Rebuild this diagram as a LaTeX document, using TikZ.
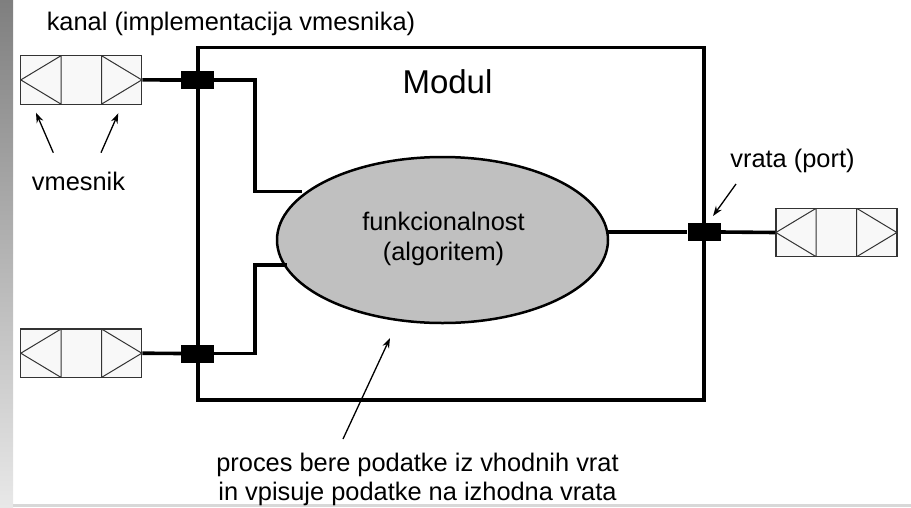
\documentclass[tikz,border=0pt]{standalone}
\usepackage{fontspec}
\setmainfont{Liberation Sans}
\usetikzlibrary{shapes.geometric,arrows.meta}
\definecolor{barTop}{HTML}{7F7F7F}
\definecolor{barBot}{HTML}{E8E8E8}
\definecolor{bandGray}{HTML}{D8D8D8}
\definecolor{chanFill}{HTML}{F8F8F8}
\definecolor{chanEdge}{HTML}{333333}
\definecolor{ellFill}{HTML}{C0C0C0}
\begin{document}
\begin{tikzpicture}[x=1pt,y=-1pt,
  txt/.style={font=\fontsize{25.4}{30}\selectfont, inner sep=0, anchor=base},
  wire/.style={line width=3.6pt, line join=miter},
  chan/.style={draw=chanEdge, fill=chanFill, line width=1.3pt, minimum width=121pt, minimum height=48.5pt, inner sep=0,
    path picture={
      \draw[line width=1pt, line join=miter]
        ([xshift=-20.2pt]path picture bounding box.north) -- (path picture bounding box.west)
        -- ([xshift=-20.2pt]path picture bounding box.south) -- cycle;
      \draw[line width=1pt, line join=miter]
        ([xshift=20.2pt]path picture bounding box.north) -- (path picture bounding box.east)
        -- ([xshift=20.2pt]path picture bounding box.south) -- cycle;
    }},
  port/.style={fill=black, minimum width=33pt, minimum height=18pt, inner sep=0},
  ptr/.style={line width=1.3pt, -{Stealth[length=10pt,width=7pt]}}
]
\useasboundingbox (0,0) rectangle (911,507);
% background decorations
\shade[top color=barTop, bottom color=barBot] (0,0) rectangle (13,507);
\fill[bandGray] (13,504) rectangle (911,507);

% module
\node[draw, line width=3.6pt, minimum width=506pt, minimum height=352.5pt, inner sep=0] (mod) at (451,223.75) {};
\node[font=\fontsize{33}{40}\selectfont, inner sep=0, anchor=base] (modl) at (447.5,93) {Modul};

% ellipse
\node[draw, line width=2.5pt, fill=ellFill, ellipse, minimum width=331pt, minimum height=166pt, inner sep=0] (ell) at (442.5,240) {};
\node[txt] (f1) at (443.5,230) {funkcionalnost};
\node[txt] (f2) at (443.5,260) {(algoritem)};

% channels and ports
\node[chan] (c1) at (81.3,79.9) {};
\node[chan] (c2) at (81.3,353.2) {};
\node[chan] (c3) at (836.4,232.5) {};
\node[port] (p1) at (197.5,80) {};
\node[port] (p2) at (197.5,353.5) {};
\node[port] (p3) at (704,232) {};

% junction coordinates
\coordinate (j1) at (255,191.5);
\coordinate (e1) at (302,191.5);
\coordinate (j2) at (255,265);
\coordinate (e2) at (287,265);
\coordinate (e3) at (607,232);

% wires
\draw[wire] (c1.east) -- (p1.west);
\draw[wire] (p1.east) -| (j1) -- (e1);
\draw[wire] (c2.east) -- (p2.west);
\draw[wire] (p2.east) -| (j2) -- (e2);
\draw[wire] (e3) -- (p3.west);
\draw[wire] (p3.east) -- (c3.west);

% texts
\node[txt] (kanal) at (231,30) {kanal (implementacija vmesnika)};
\node[txt] (vrata) at (792.5,167) {vrata (port)};
\node[txt] (vmes) at (78.5,190) {vmesnik};
\node[txt] (b1) at (417.5,471.5) {proces bere podatke iz vhodnih vrat};
\node[txt] (b2) at (417.5,500) {in vpisuje podatke na izhodna vrata};

% pointer arrows
\coordinate (a1s) at (53.3,152.7);
\coordinate (a1e) at (36,112.7);
\coordinate (a2s) at (101,152.7);
\coordinate (a2e) at (118.3,113.3);
\coordinate (a3s) at (736,184);
\coordinate (a3e) at (713,216);
\coordinate (a4s) at (343,439);
\coordinate (a4e) at (390,338);
\draw[ptr] (a1s) -- (a1e);
\draw[ptr] (a2s) -- (a2e);
\draw[ptr] (a3s) -- (a3e);
\draw[ptr] (a4s) -- (a4e);
\end{tikzpicture}
\end{document}
